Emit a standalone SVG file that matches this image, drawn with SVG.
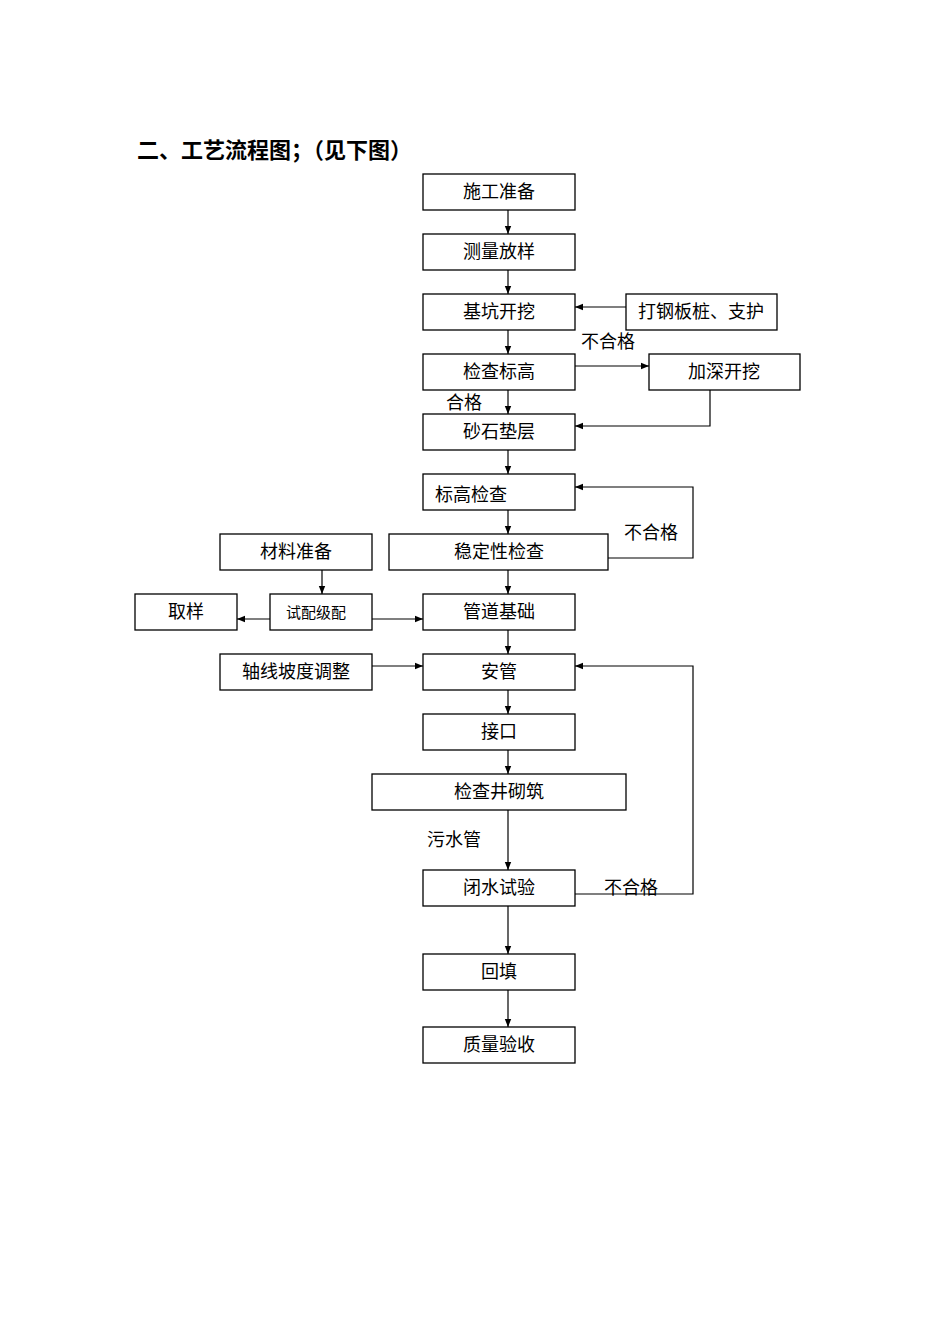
<svg xmlns="http://www.w3.org/2000/svg" width="950" height="1344" viewBox="0 0 950 1344">
<style>
.b{fill:#fff;stroke:#000;stroke-width:1.3}
text{font-family:"Liberation Serif","Noto Sans CJK SC",serif;font-size:18px;fill:#000}
.c{text-anchor:middle}
.l{fill:none;stroke:#000;stroke-width:1.2;marker-end:url(#a)}
.n{fill:none;stroke:#000;stroke-width:1.2}
</style>
<defs><marker id="a" viewBox="0 0 10 10" refX="10" refY="5" markerWidth="8" markerHeight="8" orient="auto" markerUnits="userSpaceOnUse"><path d="M0,1 L10,5 L0,9z"/></marker></defs>
<rect width="950" height="1344" fill="#fff"/>
<text x="137" y="158" style="font-size:22px;font-weight:bold;font-family:'Noto Sans CJK SC',sans-serif">二、工艺流程图；（见下图）</text>
<g id="n1"><rect class="b" x="423" y="174" width="152" height="36"/><text class="c" x="499" y="198">施工准备</text></g>
<g id="n2"><rect class="b" x="423" y="234" width="152" height="36"/><text class="c" x="499" y="258">测量放样</text></g>
<g id="n3"><rect class="b" x="423" y="294" width="152" height="36"/><text class="c" x="499" y="318">基坑开挖</text></g>
<g id="n4"><rect class="b" x="626" y="294" width="151" height="36"/><text class="c" x="701" y="318">打钢板桩、支护</text></g>
<g id="n5"><rect class="b" x="423" y="354" width="152" height="36"/><text class="c" x="499" y="378">检查标高</text></g>
<g id="n6"><rect class="b" x="649" y="354" width="151" height="36"/><text class="c" x="724" y="378">加深开挖</text></g>
<g id="n7"><rect class="b" x="423" y="414" width="152" height="36"/><text class="c" x="499" y="438">砂石垫层</text></g>
<g id="n8"><rect class="b" x="423" y="474" width="152" height="36"/><text x="435" y="501">标高检查</text></g>
<g id="n9"><rect class="b" x="389" y="534" width="219" height="36"/><text class="c" x="499" y="558">稳定性检查</text></g>
<g id="n10"><rect class="b" x="220" y="534" width="152" height="36"/><text class="c" x="296" y="558">材料准备</text></g>
<g id="n11"><rect class="b" x="135" y="594" width="102" height="36"/><text class="c" x="186" y="618">取样</text></g>
<g id="n12"><rect class="b" x="270" y="594" width="102" height="36"/><text class="c" x="316" y="618" style="font-size:15px">试配级配</text></g>
<g id="n13"><rect class="b" x="423" y="594" width="152" height="36"/><text class="c" x="499" y="618">管道基础</text></g>
<g id="n14"><rect class="b" x="220" y="654" width="152" height="36"/><text class="c" x="296" y="678">轴线坡度调整</text></g>
<g id="n15"><rect class="b" x="423" y="654" width="152" height="36"/><text class="c" x="499" y="678">安管</text></g>
<g id="n16"><rect class="b" x="423" y="714" width="152" height="36"/><text class="c" x="499" y="738">接口</text></g>
<g id="n17"><rect class="b" x="372" y="774" width="254" height="36"/><text class="c" x="499" y="798">检查井砌筑</text></g>
<g id="n18"><rect class="b" x="423" y="870" width="152" height="36"/><text class="c" x="499" y="894">闭水试验</text></g>
<g id="n19"><rect class="b" x="423" y="954" width="152" height="36"/><text class="c" x="499" y="978">回填</text></g>
<g id="n20"><rect class="b" x="423" y="1027" width="152" height="36"/><text class="c" x="499" y="1051">质量验收</text></g>
<g id="labels">
<text x="581" y="348">不合格</text>
<text x="446" y="409">合格</text>
<text x="624" y="539">不合格</text>
<text x="427" y="846">污水管</text>
<text x="604" y="894">不合格</text>
</g>
<g id="connectors">
<path class="l" d="M508,210V234"/>
<path class="l" d="M508,270V294"/>
<path class="l" d="M508,330V354"/>
<path class="l" d="M626,307H575"/>
<path class="l" d="M575,366H649"/>
<path class="l" d="M508,390V414"/>
<path class="l" d="M710,390V426H575"/>
<path class="l" d="M508,450V474"/>
<path class="l" d="M508,510V534"/>
<path class="l" d="M608,558H693V487H575"/>
<path class="l" d="M508,570V594"/>
<path class="l" d="M322,570V594"/>
<path class="l" d="M270,619H237"/>
<path class="l" d="M372,619H423"/>
<path class="l" d="M508,630V654"/>
<path class="l" d="M372,666H423"/>
<path class="l" d="M508,690V714"/>
<path class="l" d="M508,750V774"/>
<path class="l" d="M508,810V870"/>
<path class="l" d="M575,894H693V666H575"/>
<path class="l" d="M508,906V954"/>
<path class="l" d="M508,990V1027"/>
</g>
</svg>
